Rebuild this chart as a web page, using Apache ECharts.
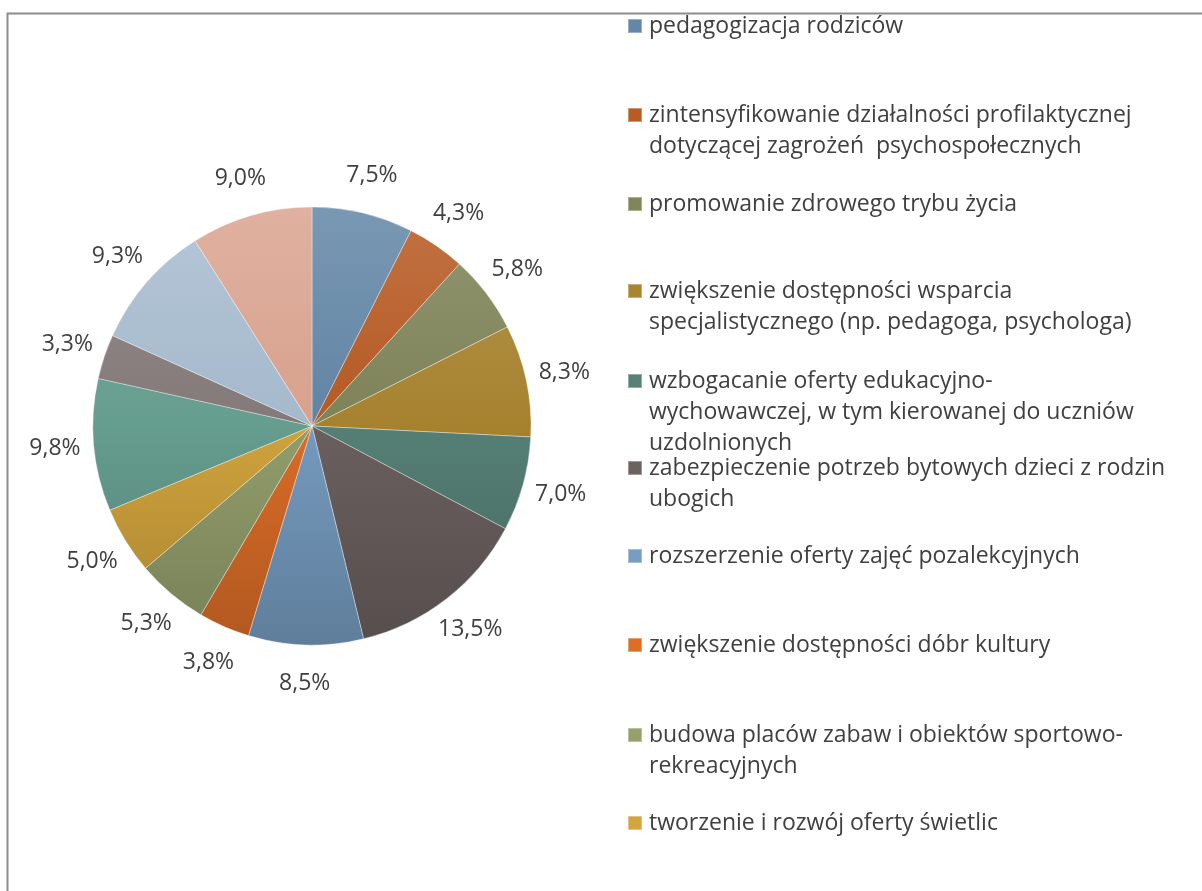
<!DOCTYPE html>
<html><head><meta charset="utf-8">
<script src="https://cdn.jsdelivr.net/npm/echarts@6/dist/echarts.min.js"></script>
<style>html,body{margin:0;padding:0;background:#fff}#chart{width:1202px;height:891px}</style>
</head><body><div id="chart"></div>
<script>
// ---- data ----
const categories = [
  'pedagogizacja rodziców',
  'zintensyfikowanie działalności profilaktycznej\ndotyczącej zagrożeń  psychospołecznych',
  'promowanie zdrowego trybu życia',
  'zwiększenie dostępności wsparcia\nspecjalistycznego (np. pedagoga, psychologa)',
  'wzbogacanie oferty edukacyjno-\nwychowawczej, w tym kierowanej do uczniów\nuzdolnionych',
  'zabezpieczenie potrzeb bytowych dzieci z rodzin\nubogich',
  'rozszerzenie oferty zajęć pozalekcyjnych',
  'zwiększenie dostępności dóbr kultury',
  'budowa placów zabaw i obiektów sportowo-\nrekreacyjnych',
  'tworzenie i rozwój oferty świetlic',
  'kategoria 11',
  'kategoria 12',
  'kategoria 13',
  'kategoria 14'
];
const values = [7.5, 4.3, 5.8, 8.3, 7.0, 13.5, 8.5, 3.8, 5.3, 5.0, 9.8, 3.3, 9.3, 9.0];
const legendCount = 10; // only the first 10 legend entries are visible in the reference

// ---- styles ----
const colors = ['#6387a7','#b85b24','#80855a','#a98530','#578277','#6b6160','#779dc2',
                '#dd6e28','#95a06d','#d3a53d','#67a091','#857b7a','#a8bdd0','#dba490'];
const legendCenters = [26, 115, 204, 291, 381, 468, 556, 645, 735, 823];
const LH = 31;
const FONT = '"Open Sans", "Noto Sans", sans-serif';
const CX = 312, CY = 426, R = 219;

function shade(hex, f) {
  const n = parseInt(hex.slice(1), 16);
  let r = (n >> 16) & 255, g = (n >> 8) & 255, b = n & 255;
  if (f >= 0) { r += (255 - r) * f; g += (255 - g) * f; b += (255 - b) * f; }
  else { r *= (1 + f); g *= (1 + f); b *= (1 + f); }
  return 'rgb(' + [r, g, b].map(v => Math.round(v)).join(',') + ')';
}
function grad(c) {
  return {
    type: 'linear', global: true, x: 0, y: CY - R, x2: 0, y2: CY + R,
    colorStops: [
      { offset: 0, color: shade(c, 0.14) },
      { offset: 0.5, color: shade(c, -0.02) },
      { offset: 1, color: shade(c, -0.2) }
    ]
  };
}

const pieData = categories.map((name, i) => ({
  name: name, value: values[i],
  itemStyle: { color: grad(colors[i]) }
}));

const legends = [];
for (let i = 0; i < legendCount; i++) {
  const n = categories[i].split('\n').length;
  legends.push({
    orient: 'vertical',
    left: 627,
    top: legendCenters[i] - (2 * n - 1) * LH / 2,
    padding: 0,
    itemWidth: 14, itemHeight: 14, itemGap: 0,
    icon: 'rect',
    selectedMode: false,
    data: [{ name: categories[i], itemStyle: { color: shade(colors[i], 0) } }],
    formatter: nm => '\n'.repeat(nm.split('\n').length - 1) + nm,
    textStyle: { fontSize: 23, lineHeight: LH, color: '#404040', fontFamily: FONT, padding: [0, 0, 0, 2] }
  });
}

const chart = echarts.init(document.getElementById('chart'), null, { renderer: 'canvas' });
chart.setOption({
  backgroundColor: '#ffffff',
  animation: false,
  graphic: [{
    type: 'polyline',
    shape: { points: [[7.5, 900], [7.5, 13.5], [1210, 13.5]] },
    style: { stroke: '#8c8c8c', lineWidth: 2, fill: null },
    silent: true
  }],
  legend: legends,
  series: [{
    type: 'pie',
    center: [CX, CY],
    radius: R,
    startAngle: 90,
    clockwise: true,
    avoidLabelOverlap: false,
    emphasis: { disabled: true },
    itemStyle: { borderColor: 'rgba(255,255,255,0.35)', borderWidth: 1 },
    label: {
      show: true, position: 'outside',
      formatter: p => p.value.toFixed(1).replace('.', ',') + '%',
      fontSize: 23, color: '#404040', fontFamily: FONT
    },
    labelLine: { show: true, length: 39, length2: 0, lineStyle: { width: 0, opacity: 0 } },
    labelLayout: function (p) {
      if (p.labelLinePoints && p.labelLinePoints[1]) {
        const pt = p.labelLinePoints[1];
        return { x: pt[0], y: pt[1], align: 'center', verticalAlign: 'middle' };
      }
      return {};
    },
    data: pieData
  }]
});
</script></body></html>
